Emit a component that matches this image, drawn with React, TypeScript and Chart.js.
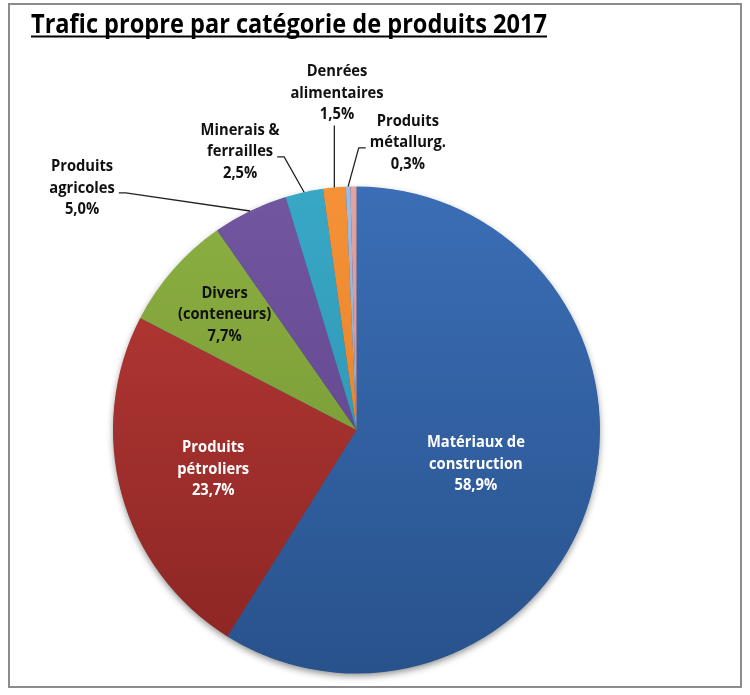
import React, { useEffect, useRef } from 'react';
import { Chart, registerables } from 'chart.js';

Chart.register(...registerables);

const TITLE = 'Trafic propre par catégorie de produits 2017';

const categories = [
  'Matériaux de construction',
  'Produits pétroliers',
  'Divers (conteneurs)',
  'Produits agricoles',
  'Minerais & ferrailles',
  'Denrées alimentaires',
  'Produits métallurg.',
  'Autres',
];
const values = [58.9, 23.7, 7.7, 5.0, 2.5, 1.5, 0.3, 0.4];
const labelLines = [
  ['Matériaux de', 'construction'],
  ['Produits', 'pétroliers'],
  ['Divers', '(conteneurs)'],
  ['Produits', 'agricoles'],
  ['Minerais &', 'ferrailles'],
  ['Denrées', 'alimentaires'],
  ['Produits', 'métallurg.'],
  [],
];
const lightColors = ['#3B6EB6', '#BA3B37', '#8DB042', '#7256A0', '#38A8C6', '#F59238', '#A0BCE0', '#E3A3A1'];
const darkColors = ['#28528C', '#8A2523', '#6F9030', '#5A3F84', '#2A8CA8', '#DE7A1E', '#86A2CC', '#C98583'];

// label placement (styling): inside => radius fraction; outside => offset in radius units
type Place =
  | { mode: 'inside'; r: number; color: string }
  | { mode: 'outside'; dx: number; dy: number; leader: 'right' | 'left' | 'below' }
  | { mode: 'none' };
const placements: Place[] = [
  { mode: 'inside', r: 0.51, color: '#ffffff' },
  { mode: 'inside', r: 0.61, color: '#ffffff' },
  { mode: 'inside', r: 0.72, color: '#111111' },
  { mode: 'outside', dx: -1.127, dy: -0.994, leader: 'right' },
  { mode: 'outside', dx: -0.478, dy: -1.142, leader: 'right' },
  { mode: 'outside', dx: -0.08, dy: -1.384, leader: 'below' },
  { mode: 'outside', dx: 0.211, dy: -1.179, leader: 'left' },
  { mode: 'none' },
];

const LABEL_FONT = 'bold 16px "Open Sans"';
const LABEL_SCALE = 0.92;
const LINE_H = 21.5;

const fmt = (v: number) => v.toFixed(1).replace('.', ',') + '%';

function drawScaled(ctx: CanvasRenderingContext2D, text: string, x: number, y: number, sx: number) {
  ctx.save();
  ctx.translate(x, y);
  ctx.scale(sx, 1);
  ctx.fillText(text, 0, 0);
  ctx.restore();
}

const shadowPlugin = {
  id: 'pieShadow',
  beforeDatasetsDraw(chart: any) {
    const meta = chart.getDatasetMeta(0);
    if (!meta.data.length) return;
    const a = meta.data[0];
    const ctx: CanvasRenderingContext2D = chart.ctx;
    ctx.save();
    ctx.shadowColor = 'rgba(0,0,0,0.45)';
    ctx.shadowBlur = 7;
    ctx.shadowOffsetY = 3;
    ctx.shadowOffsetX = 0;
    ctx.fillStyle = '#2A5490';
    ctx.beginPath();
    ctx.arc(a.x, a.y, a.outerRadius - 0.5, 0, Math.PI * 2);
    ctx.fill();
    ctx.restore();
  },
};

const labelPlugin = {
  id: 'sliceLabels',
  afterDatasetsDraw(chart: any) {
    const ctx: CanvasRenderingContext2D = chart.ctx;
    const meta = chart.getDatasetMeta(0);
    ctx.save();
    ctx.font = LABEL_FONT;
    ctx.textAlign = 'center';
    ctx.textBaseline = 'middle';
    meta.data.forEach((arc: any, i: number) => {
      const p = placements[i];
      if (!p || p.mode === 'none') return;
      const { x, y, startAngle, endAngle, outerRadius } = arc.getProps(
        ['x', 'y', 'startAngle', 'endAngle', 'outerRadius'],
        true
      );
      const mid = (startAngle + endAngle) / 2;
      const lines = [...labelLines[i], fmt(values[i])];
      let cx: number, cy: number;
      if (p.mode === 'inside') {
        cx = x + Math.cos(mid) * outerRadius * p.r;
        cy = y + Math.sin(mid) * outerRadius * p.r;
        ctx.fillStyle = p.color;
      } else {
        cx = x + p.dx * outerRadius;
        cy = y + p.dy * outerRadius;
        ctx.fillStyle = '#111111';
      }
      const n = lines.length;
      lines.forEach((ln, k) => {
        drawScaled(ctx, ln, cx, cy + (k - (n - 1) / 2) * LINE_H, LABEL_SCALE);
      });
      if (p.mode === 'outside') {
        const ex = x + Math.cos(mid) * outerRadius;
        const ey = y + Math.sin(mid) * outerRadius;
        const midLine = lines[Math.floor((n - 1) / 2)];
        const w = ctx.measureText(midLine).width * LABEL_SCALE;
        ctx.strokeStyle = '#222222';
        ctx.lineWidth = 1.3;
        ctx.beginPath();
        if (p.leader === 'right') {
          const lx = cx + w / 2 + 4;
          const ly = cy + 5;
          ctx.moveTo(lx, ly);
          ctx.lineTo(lx + 7, ly);
          ctx.lineTo(ex, ey);
        } else if (p.leader === 'left') {
          const lx = cx - w / 2 - 4;
          const ly = cy + 5;
          ctx.moveTo(lx, ly);
          ctx.lineTo(lx - 7, ly);
          ctx.lineTo(ex, ey);
        } else {
          const ly = cy + ((n - 1) / 2) * LINE_H + 11;
          ctx.moveTo(ex, ly);
          ctx.lineTo(ex, ey);
        }
        ctx.stroke();
      }
    });
    ctx.restore();
  },
};

const titlePlugin = {
  id: 'ulTitle',
  afterDraw(chart: any) {
    const ctx: CanvasRenderingContext2D = chart.ctx;
    ctx.save();
    ctx.font = 'bold 27px "Open Sans"';
    ctx.fillStyle = '#000000';
    ctx.textAlign = 'left';
    ctx.textBaseline = 'alphabetic';
    const x0 = 31;
    const x1 = 547;
    const w = ctx.measureText(TITLE).width;
    drawScaled(ctx, TITLE, x0, 33, (x1 - x0) / w);
    ctx.fillRect(x0, 35.5, x1 - x0, 2);
    ctx.restore();
  },
};

export default function App() {
  const ref = useRef<HTMLCanvasElement | null>(null);
  useEffect(() => {
    if (!ref.current) return;
    const chart = new Chart(ref.current, {
      type: 'pie',
      data: {
        labels: categories,
        datasets: [
          {
            data: values,
            backgroundColor: (c: any) => {
              const ca = c.chart.chartArea;
              if (!ca) return lightColors[c.dataIndex];
              const g = c.chart.ctx.createLinearGradient(0, ca.top, 0, ca.bottom);
              g.addColorStop(0, lightColors[c.dataIndex]);
              g.addColorStop(1, darkColors[c.dataIndex]);
              return g;
            },
            borderWidth: 0,
          },
        ],
      },
      options: {
        responsive: false,
        animation: false,
        devicePixelRatio: 1,
        layout: { padding: { left: 113, top: 186.5, right: 150, bottom: 21.5 } },
        plugins: {
          legend: { display: false },
          tooltip: { enabled: false },
          title: { display: false },
        },
      },
      plugins: [shadowPlugin, labelPlugin, titlePlugin],
    });
    return () => chart.destroy();
  }, []);
  return (
    <div style={{ position: 'absolute', left: 0, top: 0, width: 750, height: 695 }}>
      <div
        style={{
          position: 'absolute',
          left: 8,
          top: 3,
          width: 734,
          height: 685,
          boxSizing: 'border-box',
          border: '2px solid #8c8c8c',
          background: '#ffffff',
        }}
      />
      <canvas
        ref={ref}
        width={750}
        height={695}
        style={{ position: 'absolute', left: 0, top: 0, width: 750, height: 695 }}
      />
    </div>
  );
}
